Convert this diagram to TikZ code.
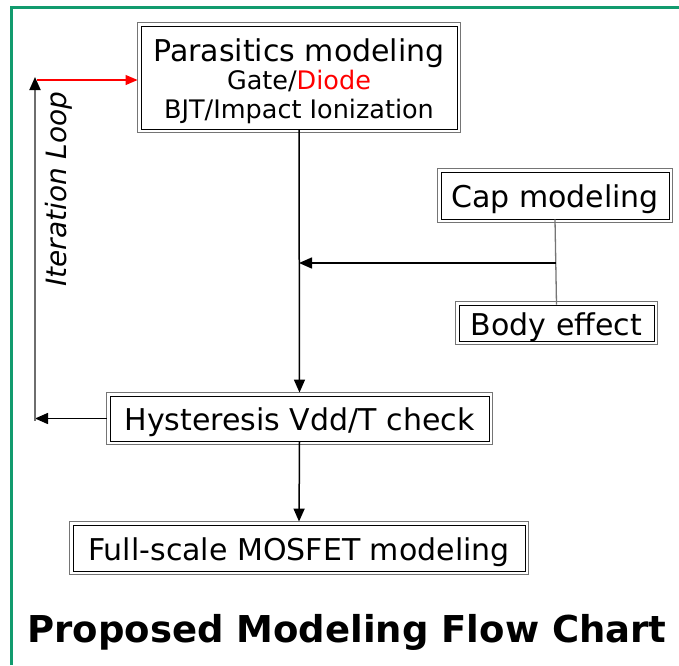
\documentclass[tikz,border=0pt]{standalone}
\usepackage{fontspec}
\setmainfont{DejaVu Sans}
\usetikzlibrary{arrows.meta, positioning}
\definecolor{frameGreen}{HTML}{129B6E}
\definecolor{loopGray}{HTML}{6E6E6E}
\definecolor{edgeGray}{HTML}{757575}

\tikzset{
  flowbox/.style={draw=black, line width=0.9pt, fill=white, inner sep=0pt, align=center,
    font=\fontsize{30}{34}\selectfont, text height=30pt, text depth=6pt},
  flowline/.style={line width=1.5pt, -{Triangle[length=13pt, width=11pt]}},
}

\begin{document}
\begin{tikzpicture}[x=1pt, y=-1pt]
  \useasboundingbox (0,0) rectangle (679,665);
  % rahmen
  \draw[frameGreen, line width=3pt] (11,665) -- (11,7) -- (679,7);

  % kaesten
  \node[flowbox, minimum width=316pt, minimum height=103pt, text height=81pt, text depth=0pt,
    font=\fontsize{25.5}{28.5}\selectfont] (par) at (299,77.5)
    {{\fontsize{30}{30}\selectfont Parasitics modeling}\\
     Gate/\textcolor{red}{Diode}\\
     BJT/Impact Ionization};
  \node[flowbox, minimum width=228pt, minimum height=47pt] (cap) at (555,195.5) {Cap modeling};
  \node[flowbox, minimum width=195pt, minimum height=36pt] (body) at (556.5,323) {Body effect};
  \node[flowbox, minimum width=379pt, minimum height=45pt] (hys) at (299.5,418.5) {Hysteresis Vdd/T check};
  \node[flowbox, minimum width=452pt, minimum height=46pt] (full) at (299,548) {Full-scale MOSFET modeling};

  % aeussere linie
  \foreach \n in {par,cap,body,hys,full}
    \draw[edgeGray, line width=1.1pt] ([shift={(-3,-3)}]\n.north west)
      rectangle ([shift={(3,3)}]\n.south east);

  % verbindungen
  \coordinate (tap) at (556,263);
  \coordinate (loopBot) at (35,418.5);
  \coordinate (loopTop) at (35,77);
  \coordinate (loopRed) at (37,80);
  \draw[flowline, shorten >=3pt] (par.south) -- (hys.north);
  \draw[flowline, shorten >=3pt] (hys.south) -- (full.north);
  \draw[edgeGray, line width=1.3pt] (cap.south) -- (body.north);
  \draw[flowline] (tap) -- (par.south |- tap);
  \draw[flowline, shorten <=3pt] (hys.west) -- (loopBot);
  \draw[loopGray, line width=1.8pt, -{Triangle[length=13pt, width=11pt, color=black]}]
    ([yshift=-2pt]loopBot) -- (loopTop);
  \draw[red, line width=1.2pt, -{Triangle[length=12pt, width=10pt]}, shorten >=3pt]
    (loopRed) -- (par.west |- loopRed);

  % beschriftung
  \node[rotate=90, font=\itshape\fontsize{28}{30}\selectfont] (iter) at (58.5,189) {Iteration Loop};
  \node[anchor=base, font=\bfseries\fontsize{37}{40}\selectfont] (title) at (347,642)
    {Proposed Modeling Flow Chart};
\end{tikzpicture}
\end{document}
